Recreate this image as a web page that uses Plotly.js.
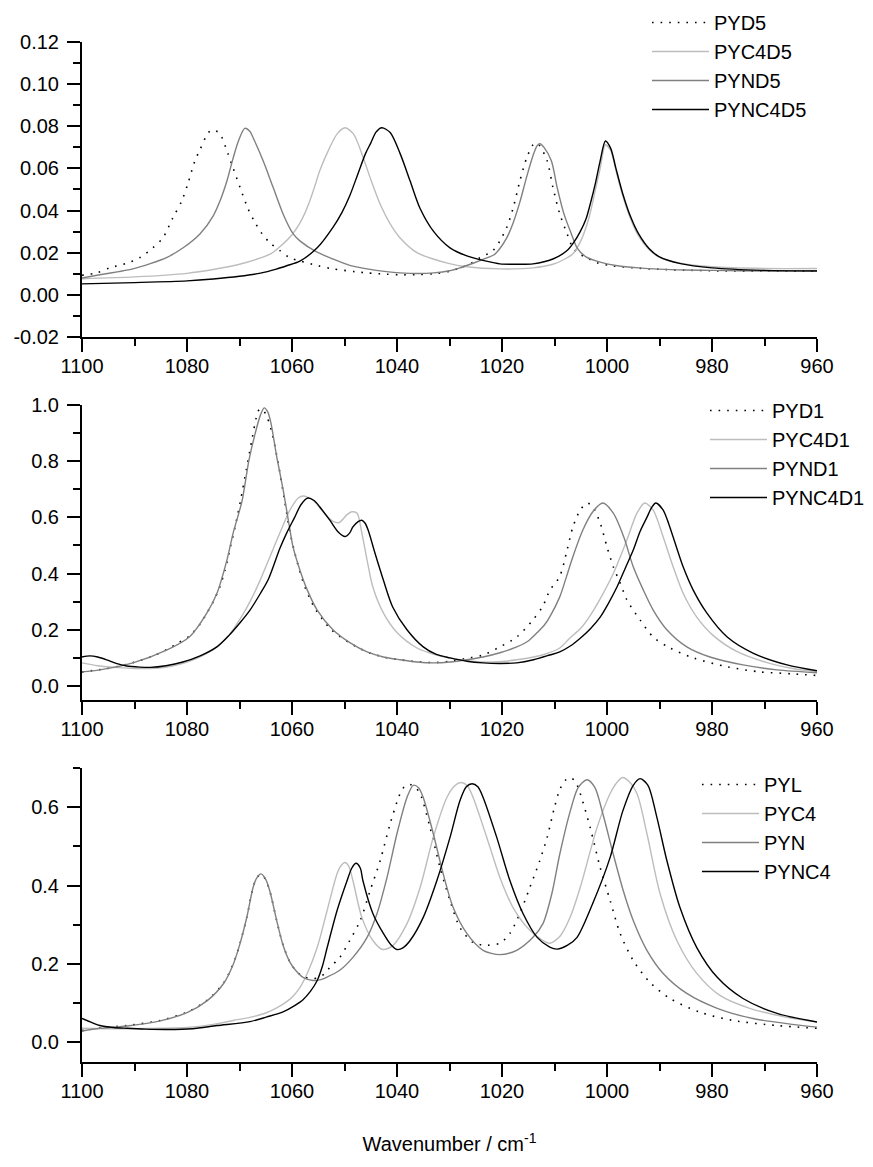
<!DOCTYPE html>
<html>
<head>
<meta charset="utf-8">
<script src="https://cdn.plot.ly/plotly-3.0.1.min.js"></script>
<style>html,body{margin:0;padding:0;background:#fff;}#chart{width:873px;height:1167px;}</style>
</head>
<body>
<div id="chart"></div>
<script>
// ---------- Panel 1 (D5) ----------
const pyd5_x = [1100,1097.2,1094.7,1091.2,1089,1086.5,1084.6,1082.7,1081,1079.8,1078.5,1077.5,1076.5,1075.5,1074.5,1073.7,1072.2,1071.2,1069.9,1068.4,1067.2,1065.7,1064.2,1062.3,1060.4,1058.5,1055,1052.2,1048,1045.7,1042,1039.4,1036,1033.1,1030,1028,1026,1024.2,1021.7,1020.4,1019.1,1017.9,1016.6,1015.3,1014.1,1013.5,1012.8,1011.4,1010.3,1009,1007.6,1006.5,1005,1003.8,1001.9,999,995,990,985,980,970,960];
const pyd5_y = [0.0093,0.0104,0.0128,0.0152,0.0176,0.0223,0.027,0.0365,0.0446,0.053,0.0636,0.069,0.0745,0.078,0.0778,0.0764,0.067,0.060,0.051,0.041,0.035,0.029,0.0247,0.021,0.0176,0.0161,0.0138,0.0123,0.011,0.0104,0.0098,0.0095,0.0096,0.010,0.0112,0.0128,0.0148,0.0176,0.021,0.0256,0.032,0.041,0.054,0.065,0.0712,0.072,0.0707,0.0636,0.051,0.0384,0.029,0.0223,0.019,0.0176,0.0152,0.0138,0.0128,0.0121,0.0117,0.0114,0.0112,0.0113];

const pyc4d5_x = [1100,1090,1080,1075,1070,1066,1064,1062,1060,1058.5,1057.5,1056.6,1055.6,1054.7,1052.8,1051.4,1049.9,1048.3,1046.7,1045.1,1043.2,1041.3,1039.4,1036.2,1033.1,1030,1026.7,1020.4,1014.1,1010.3,1008,1006.5,1005.1,1003.5,1002.2,1001.3,1000.3,999.3,998.3,997,995.5,994,992,990,986,980,970,960];
const pyc4d5_y = [0.0076,0.0085,0.0102,0.012,0.0145,0.0175,0.0195,0.0235,0.0285,0.034,0.039,0.0446,0.052,0.059,0.070,0.0764,0.0793,0.0764,0.067,0.0555,0.043,0.0337,0.027,0.020,0.017,0.0148,0.0133,0.0123,0.0128,0.0145,0.017,0.0195,0.025,0.036,0.050,0.060,0.0712,0.0685,0.059,0.047,0.036,0.028,0.0215,0.0178,0.015,0.0133,0.0125,0.0125];

const pynd5_x = [1100,1096.6,1093,1090.3,1087,1083.8,1080.8,1077.5,1075,1073.7,1072.4,1071.2,1070.2,1069,1068,1067.4,1065.5,1063.6,1061.7,1059.8,1058.5,1055.4,1052.2,1049,1045.7,1042,1039.4,1036,1033,1030,1028,1025.5,1022.9,1021.5,1020.4,1019.1,1017.9,1016.6,1015.3,1014.1,1013.3,1012.8,1012,1010.6,1009.5,1008.2,1006.8,1005.7,1004,1001.3,998,994,990,985,980,970,960];
const pynd5_y = [0.008,0.0095,0.011,0.0123,0.0148,0.0178,0.0222,0.029,0.0375,0.0446,0.054,0.065,0.073,0.079,0.0775,0.0745,0.0636,0.051,0.0384,0.029,0.0256,0.0205,0.017,0.014,0.0123,0.011,0.0104,0.0101,0.0104,0.0114,0.0128,0.015,0.0175,0.019,0.022,0.027,0.034,0.044,0.056,0.066,0.0708,0.0717,0.070,0.0636,0.051,0.0384,0.029,0.0223,0.018,0.0155,0.0138,0.0128,0.0122,0.0118,0.0116,0.0113,0.0115];

const pync4d5_x = [1100,1090,1080,1075,1070,1066,1063,1061,1058.5,1055.2,1052.2,1050.5,1049,1047.5,1046,1045,1044,1042.9,1041.3,1039.4,1037.5,1035.6,1033,1029.9,1026.7,1023,1020.4,1017,1014.1,1010.3,1007.6,1006.3,1005.1,1004,1003.2,1002.2,1001.3,1000.3,999.3,998.3,997,995.5,994,992,990,986,980,970,960];
const pync4d5_y = [0.0052,0.0058,0.0066,0.0075,0.0088,0.0103,0.0122,0.0138,0.016,0.0223,0.032,0.039,0.047,0.057,0.067,0.072,0.0772,0.0793,0.077,0.067,0.054,0.041,0.030,0.0223,0.0185,0.016,0.0147,0.0145,0.0147,0.017,0.021,0.025,0.030,0.036,0.043,0.053,0.0636,0.073,0.0695,0.060,0.048,0.037,0.029,0.022,0.018,0.0148,0.0128,0.0116,0.0113];

// ---------- Panel 2 (D1) ----------
const pyd1_x = [1100,1096.6,1093,1090.3,1087,1083.8,1081.5,1079.5,1077.5,1076.2,1075,1073.8,1072.8,1071.8,1070.8,1069.8,1068.7,1067.6,1066.8,1066.2,1065.5,1064.7,1063.8,1062.7,1061.5,1060.3,1059,1057.6,1055.6,1052.5,1049,1045.7,1042.6,1039.4,1036.2,1033,1029.9,1026.1,1023.6,1020.4,1017.2,1014.1,1012.2,1010.9,1009,1007.6,1006.5,1005.1,1003.8,1002.7,1001.3,1000,998.8,997.5,996.2,993.7,991.2,988,983.6,977.1,970.9,964.6,960];
const pyd1_y = [0.05,0.058,0.07,0.083,0.103,0.13,0.155,0.178,0.22,0.26,0.30,0.35,0.41,0.49,0.57,0.66,0.77,0.88,0.955,0.985,0.982,0.955,0.90,0.80,0.67,0.54,0.44,0.355,0.275,0.20,0.153,0.121,0.103,0.093,0.086,0.083,0.088,0.10,0.11,0.139,0.174,0.235,0.285,0.34,0.39,0.484,0.566,0.626,0.651,0.637,0.58,0.495,0.424,0.367,0.306,0.235,0.174,0.135,0.10,0.068,0.05,0.043,0.037];

const pyc4d1_x = [1100,1097,1093,1090,1086,1083,1080,1077,1074.3,1072,1069.5,1068,1066.1,1064.2,1062.3,1060.4,1058.8,1057.9,1056,1054.1,1052.2,1051,1049.5,1048.6,1047.6,1046.7,1045.7,1044.6,1042.6,1040,1036.2,1032.5,1029.9,1026.5,1023.6,1020,1017.2,1014,1012,1009,1007.1,1005,1003.4,1001.3,998.8,996.2,994.3,992.8,991.2,989.3,987.4,985.5,982.9,979.8,975.2,969.5,964.6,960];
const pyc4d1_y = [0.082,0.072,0.065,0.062,0.063,0.07,0.085,0.108,0.14,0.18,0.25,0.30,0.375,0.46,0.545,0.626,0.669,0.676,0.662,0.62,0.586,0.582,0.61,0.62,0.615,0.545,0.448,0.352,0.26,0.19,0.135,0.11,0.10,0.09,0.085,0.087,0.093,0.103,0.112,0.135,0.17,0.205,0.245,0.31,0.40,0.52,0.615,0.651,0.626,0.53,0.424,0.33,0.245,0.18,0.122,0.083,0.062,0.050];

const pynd1_x = [1100,1096.6,1090.3,1083.8,1079.5,1076.2,1074.3,1072.4,1071.2,1069.5,1068.2,1067,1066,1065.3,1064.6,1064,1062.9,1061.7,1060.7,1059.8,1058.5,1057.1,1055.2,1052.2,1048.9,1045.7,1042.6,1039.4,1036.2,1033,1029.9,1026.7,1023.6,1020.4,1017.2,1015,1013.3,1012,1010.9,1009,1007.7,1006.5,1004.6,1002.7,1000.8,998.8,996.8,995,993.1,991.2,988.6,984.8,980.4,974.1,967.6,960];
const pynd1_y = [0.05,0.057,0.082,0.128,0.175,0.26,0.33,0.448,0.545,0.66,0.804,0.90,0.965,0.99,0.975,0.935,0.815,0.70,0.59,0.495,0.413,0.342,0.27,0.20,0.153,0.121,0.103,0.093,0.085,0.082,0.085,0.093,0.103,0.118,0.139,0.16,0.19,0.215,0.246,0.317,0.39,0.46,0.555,0.62,0.651,0.615,0.53,0.424,0.342,0.27,0.20,0.139,0.103,0.075,0.057,0.047];

const pync4d1_x = [1100,1098.5,1097,1095.3,1093.5,1091.5,1089,1087,1084,1080.8,1077.5,1074.3,1072,1069.9,1068,1066,1064.5,1062.3,1061,1059.5,1058.3,1057,1055.8,1054.7,1052.8,1051.2,1049.9,1049,1048.4,1047.4,1046.7,1046.1,1045.5,1044.2,1042.6,1040.8,1038.1,1035,1032.5,1029.9,1026.7,1023.6,1020.4,1017.2,1014,1010.9,1009,1007,1005.1,1003.2,1001.3,999.7,998.1,996.5,995,993.7,992.4,991.5,990.7,989.3,988.3,987.4,985.5,983.6,981,977.1,972.2,965.7,960];
const pync4d1_y = [0.103,0.107,0.103,0.093,0.08,0.071,0.067,0.066,0.072,0.085,0.107,0.139,0.18,0.225,0.27,0.33,0.38,0.49,0.545,0.60,0.645,0.669,0.66,0.637,0.59,0.548,0.532,0.545,0.566,0.585,0.59,0.58,0.555,0.473,0.377,0.28,0.20,0.139,0.112,0.10,0.088,0.082,0.08,0.082,0.093,0.11,0.121,0.142,0.17,0.203,0.245,0.295,0.352,0.42,0.484,0.55,0.60,0.635,0.651,0.626,0.58,0.53,0.424,0.342,0.26,0.174,0.117,0.075,0.054];

// ---------- Panel 3 ----------
const pyl_x = [1100,1096.6,1091.4,1085.1,1080,1076.2,1073.1,1071.2,1069.9,1068.6,1067.4,1066.7,1065.9,1065,1064.2,1062.9,1061.7,1060.4,1059.2,1057.9,1056.5,1055,1053.8,1052.8,1050.9,1049,1047,1045.1,1043.2,1041.3,1039.4,1038.4,1037.5,1036.6,1035.6,1033.7,1031.8,1029.9,1028,1025.5,1022.9,1020.4,1018.5,1016.6,1014.7,1012.8,1011.4,1010,1009,1008,1007,1006,1005.1,1003.2,1001.3,999.4,997.5,995,991.8,988,982.3,976,967.6,960];
const pyl_y = [0.030,0.037,0.043,0.056,0.077,0.107,0.15,0.20,0.253,0.32,0.396,0.42,0.429,0.415,0.385,0.31,0.248,0.205,0.182,0.168,0.163,0.165,0.175,0.191,0.217,0.26,0.311,0.388,0.464,0.558,0.635,0.655,0.658,0.652,0.635,0.548,0.446,0.362,0.293,0.255,0.248,0.253,0.278,0.329,0.395,0.464,0.523,0.60,0.645,0.668,0.676,0.665,0.635,0.548,0.446,0.362,0.278,0.209,0.153,0.112,0.077,0.056,0.043,0.036];

const pyc4_x = [1100,1095,1090.3,1085,1080,1075,1071.2,1068,1065,1062.9,1061,1059.8,1058.5,1057.1,1055.2,1053.3,1051.4,1050.6,1049.9,1049.2,1048.4,1046.7,1044.6,1042.7,1040.8,1038.1,1035.6,1033.1,1030.5,1029,1027.8,1026.6,1025.5,1022.9,1020.4,1017.9,1014.7,1012.2,1010.9,1009,1007,1005.1,1001.9,999.4,998,997,996,994.3,992.4,989.9,986.7,982.9,978.5,972.8,965.7,960];
const pyc4_y = [0.036,0.035,0.035,0.036,0.038,0.046,0.056,0.064,0.075,0.088,0.104,0.118,0.14,0.176,0.242,0.337,0.431,0.452,0.459,0.45,0.413,0.319,0.26,0.237,0.247,0.303,0.395,0.523,0.625,0.655,0.663,0.655,0.625,0.523,0.421,0.344,0.286,0.26,0.253,0.27,0.32,0.395,0.548,0.635,0.665,0.676,0.668,0.635,0.533,0.38,0.26,0.176,0.12,0.087,0.064,0.052];

const pyn_x = [1100,1096.6,1091.4,1085.1,1080,1076.2,1073.1,1071.2,1069.9,1068.6,1067.4,1066.7,1065.9,1065,1064.2,1062.9,1061.7,1060.4,1059.2,1057.9,1056,1054.5,1053.4,1050.9,1048.4,1045.7,1043.8,1041.9,1040,1038.1,1036.9,1035.9,1035,1033.1,1031.2,1029.3,1026.7,1023.6,1020.4,1017.2,1014.1,1012.2,1010.5,1009,1007,1005.5,1003.8,1002.3,1000.8,998.8,996.9,995,992.4,989.3,984.8,979,972.2,965.7,960];
const pyn_y = [0.029,0.036,0.042,0.055,0.076,0.106,0.149,0.199,0.252,0.32,0.396,0.42,0.43,0.416,0.385,0.31,0.248,0.205,0.182,0.166,0.158,0.16,0.166,0.184,0.217,0.268,0.329,0.421,0.533,0.625,0.656,0.65,0.625,0.533,0.43,0.344,0.278,0.235,0.224,0.235,0.268,0.303,0.38,0.48,0.59,0.65,0.67,0.65,0.584,0.48,0.387,0.311,0.235,0.176,0.125,0.087,0.061,0.048,0.039];

const pync4_x = [1100,1098,1096.6,1094,1091.4,1088,1083.8,1079,1074.3,1068,1064.8,1061.7,1059.5,1057.9,1056.5,1055.2,1054.2,1053.3,1051.4,1049.5,1048.6,1047.8,1047,1046.5,1044.6,1042.6,1041.2,1040,1038.8,1037.5,1035,1032.4,1029.9,1028,1026.8,1025.7,1024.6,1023.6,1021,1018.5,1016,1013.3,1010.9,1009.5,1007.5,1005.7,1002.7,999.4,997,995,993.7,992.2,990.5,988.6,986.1,982.9,979,974.1,967.6,960];
const pync4_y = [0.061,0.05,0.043,0.038,0.036,0.034,0.033,0.035,0.043,0.053,0.065,0.078,0.094,0.109,0.13,0.158,0.195,0.242,0.337,0.413,0.445,0.457,0.445,0.413,0.329,0.278,0.25,0.237,0.242,0.26,0.319,0.413,0.523,0.617,0.652,0.66,0.652,0.625,0.523,0.413,0.329,0.268,0.243,0.238,0.248,0.268,0.355,0.472,0.59,0.656,0.673,0.656,0.574,0.464,0.344,0.242,0.166,0.112,0.074,0.052];

const names1 = ['PYD5','PYC4D5','PYND5','PYNC4D5'];
const names2 = ['PYD1','PYC4D1','PYND1','PYNC4D1'];
const names3 = ['PYL','PYC4','PYN','PYNC4'];
const xTickVals = [1100,1080,1060,1040,1020,1000,980,960];
const y1TickVals = [-0.02,0,0.02,0.04,0.06,0.08,0.10,0.12];
const y1TickText = ['-0.02','0.00','0.02','0.04','0.06','0.08','0.10','0.12'];
const y1MinorVals = [-0.01,0.01,0.03,0.05,0.07,0.09,0.11];

const FONT = 'Liberation Sans, Arial, Helvetica, sans-serif';
const FS = 20;
const styles = [
  {color:'#000000', width:1.6, dash:'1.6px,7px'},
  {color:'#bdbdbd', width:1.4, dash:'solid'},
  {color:'#808080', width:1.4, dash:'solid'},
  {color:'#000000', width:1.4, dash:'solid'}
];

function mk(x, y, name, i, xa, ya, leg) {
  return {x:x, y:y, name:name, type:'scatter', mode:'lines', xaxis:xa, yaxis:ya, legend:leg,
    legendgroup:leg+name,
    line:{color:styles[i].color, width:styles[i].width, dash:styles[i].dash, shape:'spline', smoothing:0.8}};
}

const data = [
  mk(pyd5_x, pyd5_y, names1[0], 0, 'x', 'y', 'legend'),
  mk(pyc4d5_x, pyc4d5_y, names1[1], 1, 'x', 'y', 'legend'),
  mk(pynd5_x, pynd5_y, names1[2], 2, 'x', 'y', 'legend'),
  mk(pync4d5_x, pync4d5_y, names1[3], 3, 'x', 'y', 'legend'),
  mk(pyd1_x, pyd1_y, names2[0], 0, 'x2', 'y2', 'legend2'),
  mk(pyc4d1_x, pyc4d1_y, names2[1], 1, 'x2', 'y2', 'legend2'),
  mk(pynd1_x, pynd1_y, names2[2], 2, 'x2', 'y2', 'legend2'),
  mk(pync4d1_x, pync4d1_y, names2[3], 3, 'x2', 'y2', 'legend2'),
  mk(pyl_x, pyl_y, names3[0], 0, 'x3', 'y3', 'legend3'),
  mk(pyc4_x, pyc4_y, names3[1], 1, 'x3', 'y3', 'legend3'),
  mk(pyn_x, pyn_y, names3[2], 2, 'x3', 'y3', 'legend3'),
  mk(pync4_x, pync4_y, names3[3], 3, 'x3', 'y3', 'legend3')
];

function xax(anchor, title) {
  const a = {
    anchor:anchor, domain:[0,1], range:[1100,960], autorange:false,
    tickmode:'array', tickvals:xTickVals, ticktext:xTickVals.map(String),
    ticks:'outside', ticklen:13, tickwidth:2, tickcolor:'#000',
    minor:{ticks:'outside', ticklen:7, tickwidth:2, tickcolor:'#000', dtick:10, tick0:960},
    showline:true, linewidth:2, linecolor:'#000', showgrid:false, zeroline:false,
    tickfont:{family:FONT, size:FS, color:'#000'}, ticklabelstandoff:-3, automargin:false
  };
  if (title) a.title = {text:title, font:{family:FONT, size:FS, color:'#000'}, standoff:36};
  return a;
}
function yax(anchor, domain, range, dtick, minorDtick, fmt) {
  return {
    anchor:anchor, domain:domain, range:range, autorange:false,
    tick0:0, dtick:dtick, tickformat:fmt,
    ticks:'outside', ticklen:13, tickwidth:2, tickcolor:'#000',
    minor:{ticks:'outside', ticklen:7, tickwidth:2, tickcolor:'#000', dtick:minorDtick, tick0:0},
    showline:true, linewidth:2, linecolor:'#000', showgrid:false, zeroline:false,
    tickfont:{family:FONT, size:FS, color:'#000'}, ticklabelstandoff:4, automargin:false
  };
}
function leg(x, y) {
  return {x:x, y:y, xref:'paper', yref:'paper', xanchor:'left', yanchor:'top',
    bgcolor:'rgba(0,0,0,0)', borderwidth:0,
    font:{family:FONT, size:FS, color:'#000'}, tracegroupgap:4.2, itemwidth:57, traceorder:'normal'};
}

const yaxis1 = yax('x', [0.6827, 0.9605], [-0.02, 0.12], 0.02, 0.01, '.2f');
yaxis1.tickmode = 'array';
yaxis1.tickvals = y1TickVals;
yaxis1.ticktext = y1TickText;
yaxis1.minor = {ticks:'outside', ticklen:7, tickwidth:2, tickcolor:'#000', tickmode:'array', tickvals:y1MinorVals};

// top margin 0 so that legends above the panels do not push the plot area
const layout = {
  width:873, height:1167,
  margin:{l:82, r:56, t:0, b:105},
  paper_bgcolor:'#fff', plot_bgcolor:'#fff',
  showlegend:true,
  font:{family:FONT, size:FS, color:'#000'},
  xaxis: xax('y'),
  yaxis: yaxis1,
  xaxis2: xax('y2'),
  yaxis2: yax('x2', [0.3409, 0.6186], [-0.05, 1.0], 0.2, 0.1, '.1f'),
  xaxis3: xax('y3', 'Wavenumber / cm<sup>-1</sup>'),
  yaxis3: yax('x3', [0, 0.2768], [-0.05, 0.7], 0.2, 0.1, '.1f'),
  legend: leg(0.7687, 0.9972),
  legend2: leg(0.8476, 0.6318),
  legend3: leg(0.8367, 0.2797)
};

Plotly.newPlot('chart', data, layout, {staticPlot:true});
</script>
</body>
</html>
